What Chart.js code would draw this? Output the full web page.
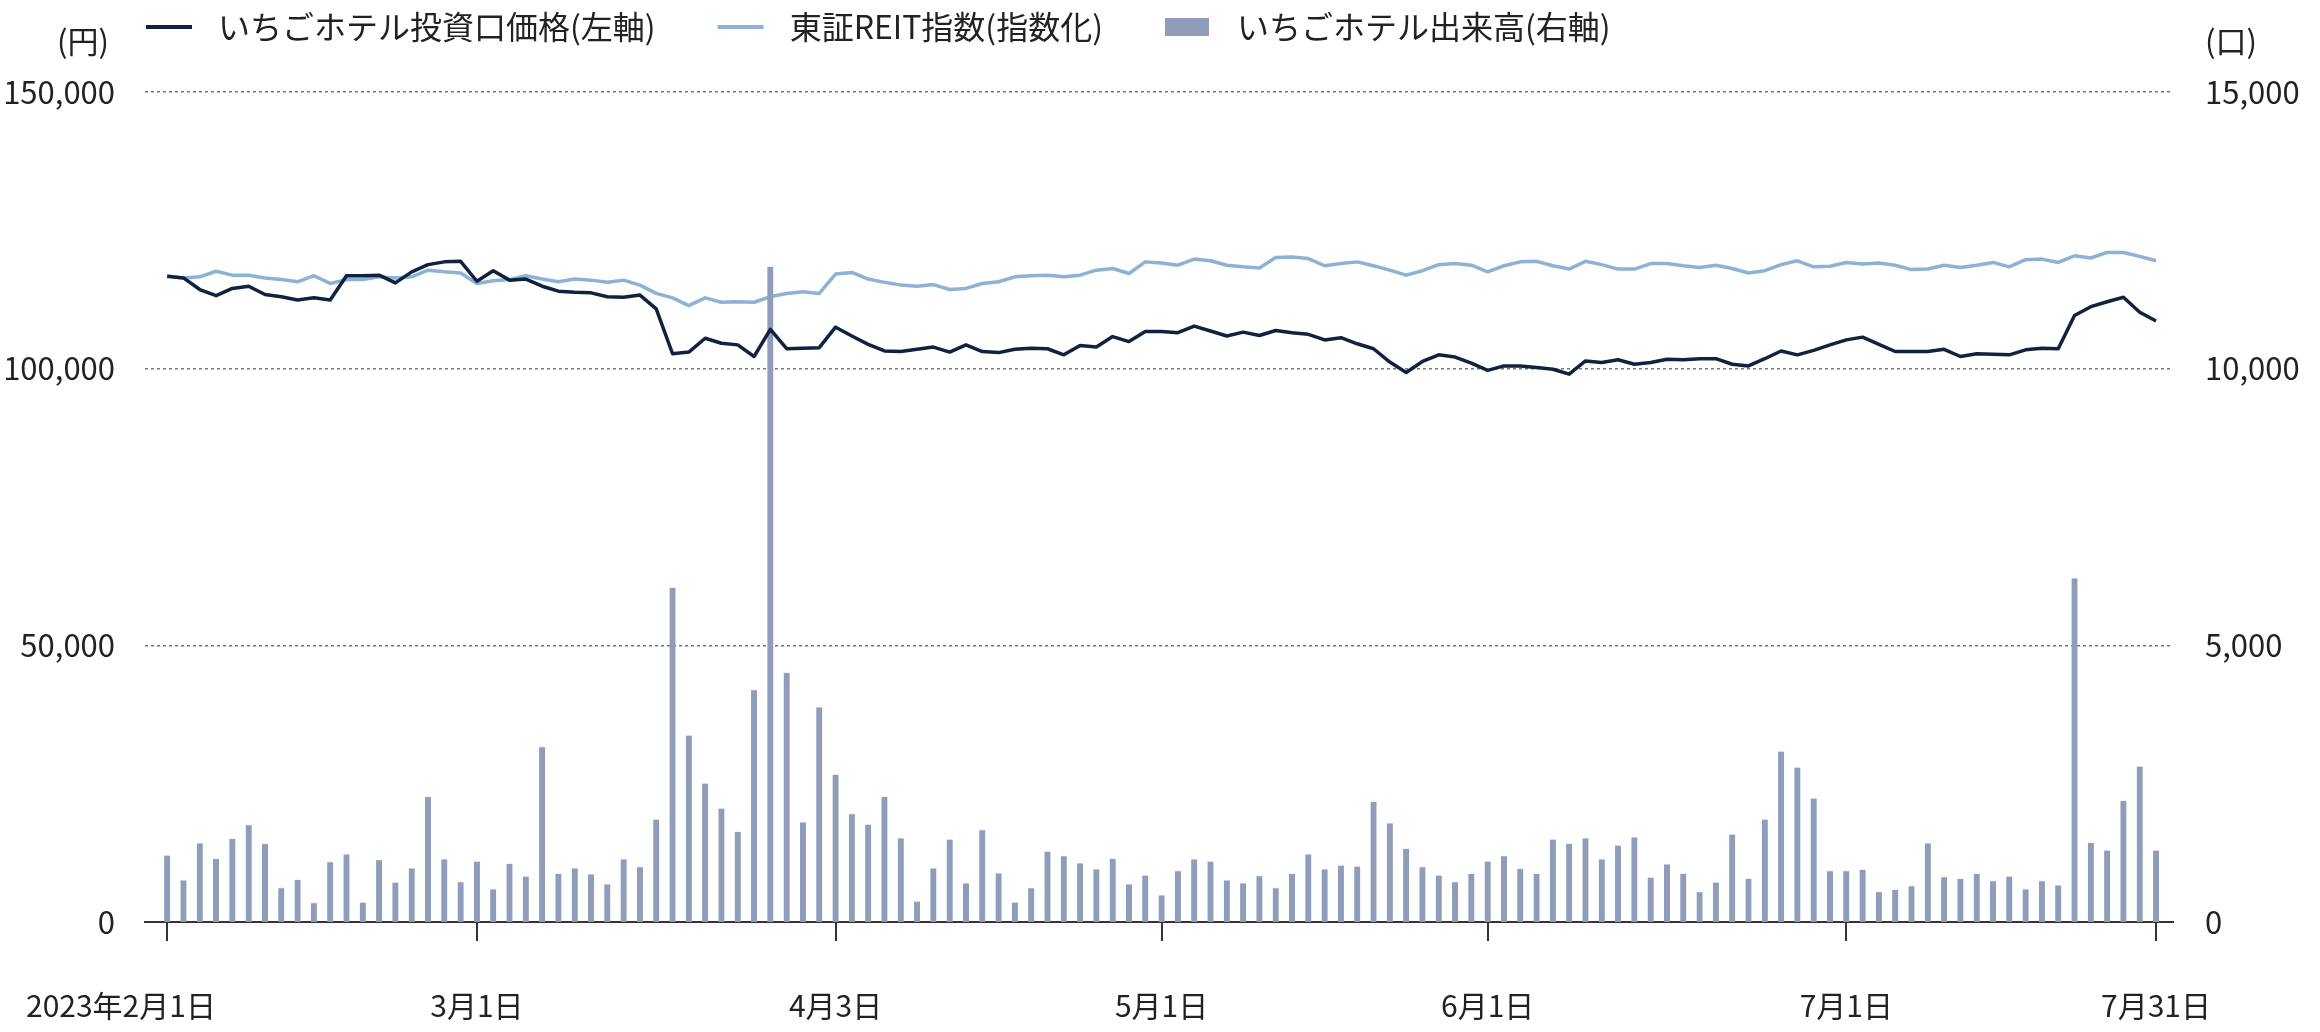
<!DOCTYPE html>
<html lang="ja">
<head>
<meta charset="UTF-8">
<title>いちごホテル投資口価格・出来高</title>
<script src="https://cdn.jsdelivr.net/npm/chart.js"></script>
<style>
  html, body { margin: 0; padding: 0; background: #fff; }
  #wrap { width: 2320px; height: 1032px; position: relative; }
</style>
</head>
<body>
<div id="wrap"><canvas id="chart"></canvas></div>
<script>
// 営業日 (2023/2/1 - 2023/7/31)
const dates = [
  '2/1','2/2','2/3','2/6','2/7','2/8','2/9','2/10','2/13','2/14','2/15','2/16','2/17','2/20','2/21','2/22','2/24','2/27','2/28',
  '3/1','3/2','3/3','3/6','3/7','3/8','3/9','3/10','3/13','3/14','3/15','3/16','3/17','3/20','3/22','3/23','3/24','3/27','3/28','3/29','3/30','3/31',
  '4/3','4/4','4/5','4/6','4/7','4/10','4/11','4/12','4/13','4/14','4/17','4/18','4/19','4/20','4/21','4/24','4/25','4/26','4/27','4/28',
  '5/1','5/2','5/8','5/9','5/10','5/11','5/12','5/15','5/16','5/17','5/18','5/19','5/22','5/23','5/24','5/25','5/26','5/29','5/30','5/31',
  '6/1','6/2','6/5','6/6','6/7','6/8','6/9','6/12','6/13','6/14','6/15','6/16','6/19','6/20','6/21','6/22','6/23','6/26','6/27','6/28','6/29','6/30',
  '7/3','7/4','7/5','7/6','7/7','7/10','7/11','7/12','7/13','7/14','7/18','7/19','7/20','7/21','7/24','7/25','7/26','7/27','7/28','7/31'
];

// 投資口価格 (円)
const price = [
  116700,116400,114300,113200,114500,114900,113400,113000,112400,112800,112400,116800,116800,116900,115500,117500,118800,119300,119400,
  115800,117700,116000,116200,114900,114000,113800,113700,113000,112900,113300,110800,102700,103000,105500,104600,104300,102200,107100,103600,103700,103800,
  107500,105900,104400,103200,103100,103500,103900,103000,104300,103100,102900,103500,103700,103600,102500,104200,103900,105800,104900,106700,
  106700,106500,107700,106800,105900,106600,106000,106900,106500,106200,105200,105600,104500,103600,101200,99300,101300,102500,102100,101000,
  99700,100500,100500,100200,99900,99000,101400,101100,101600,100800,101100,101700,101600,101800,101800,100800,100500,101800,103200,102500,103300,104300,
  105200,105700,104400,103100,103100,103100,103500,102200,102700,102600,102500,103400,103700,103600,109600,111200,112100,112900,110200,108600
];

// 東証REIT指数 (指数化)
const reit = [
  116700,116400,116600,117600,116900,116900,116400,116100,115700,116800,115400,116100,116100,116600,116400,116600,117800,117500,117300,
  115400,115900,116100,116800,116200,115700,116200,116000,115600,116000,115100,113600,112800,111400,112800,112000,112100,112000,113000,113600,113900,113600,
  117100,117400,116200,115600,115100,114900,115200,114300,114500,115400,115700,116600,116800,116900,116600,116900,117800,118100,117200,119300,
  119100,118700,119800,119500,118700,118400,118200,120100,120200,119900,118600,119000,119300,118600,117800,116900,117700,118800,119000,118700,
  117500,118600,119300,119400,118600,118000,119400,118800,118000,118000,119000,119000,118600,118300,118700,118100,117300,117700,118800,119500,118400,118500,
  119200,118900,119100,118700,117900,118000,118700,118300,118700,119200,118400,119700,119800,119200,120400,120000,121000,121000,120300,119500
];

// 出来高 (口)
const volume = [
  1210,760,1430,1150,1510,1760,1420,620,770,350,1090,1230,360,1130,720,980,2270,1140,730,
  1100,600,1060,830,3170,880,980,870,690,1140,1000,1860,6050,3380,2510,2060,1640,4200,11850,4510,1810,3890,
  2670,1960,1770,2270,1520,380,980,1500,710,1670,890,360,620,1280,1200,1070,960,1150,690,850,
  490,930,1140,1100,760,710,840,620,880,1230,960,1030,1010,2180,1790,1330,1000,850,730,880,
  1100,1200,970,880,1500,1420,1520,1140,1390,1540,810,1050,880,550,720,1590,790,1860,3090,2800,2240,930,
  930,950,550,590,660,1430,820,790,880,750,830,600,750,670,6220,1440,1300,2200,2820,1300
];

const tickDates = ['2/1', '3/1', '4/3', '5/1', '6/1', '7/3', '7/31'];
const tickLabels = ['2023年2月1日', '3月1日', '4月3日', '5月1日', '6月1日', '7月1日', '7月31日'];
const tickIdx = tickDates.map(d => dates.indexOf(d));

const FONT = '"Noto Sans CJK JP", sans-serif';
const TEXT = '#222';

Chart.defaults.font.family = FONT;
Chart.defaults.color = TEXT;

const xy = arr => arr.map((v, i) => ({ x: i, y: v }));

// 凡例・単位・日付ラベル
const decorations = {
  id: 'decorations',
  afterDraw(chart) {
    const ctx = chart.ctx;
    const area = chart.chartArea;
    ctx.save();
    ctx.textBaseline = 'middle';
    ctx.fillStyle = TEXT;

    // 凡例
    ctx.font = '32px ' + FONT;
    let x = area.left + 1;
    const ly = 27;
    chart.data.datasets.forEach(ds => {
      if (ds.type === 'line') {
        ctx.strokeStyle = ds.borderColor;
        ctx.lineWidth = 4;
        ctx.beginPath();
        ctx.moveTo(x, ly);
        ctx.lineTo(x + 46, ly);
        ctx.stroke();
      } else {
        ctx.fillStyle = ds.backgroundColor;
        ctx.fillRect(x, ly - 9, 44, 18);
      }
      x += 46 + 26;
      ctx.fillStyle = TEXT;
      ctx.textAlign = 'left';
      ctx.fillText(ds.label, x, ly);
      x += ctx.measureText(ds.label).width + 62;
    });

    // 単位
    ctx.font = '31px ' + FONT;
    ctx.textAlign = 'center';
    ctx.fillText('(円)', area.left - 62, 41);
    ctx.textAlign = 'left';
    ctx.fillText('(口)', area.right + 32, 41);

    // 日付ラベル
    ctx.font = '30px ' + FONT;
    const xs = chart.scales.x;
    tickIdx.forEach((idx, k) => {
      const px = xs.getPixelForValue(idx);
      if (k === 0) {
        ctx.textAlign = 'left';
        ctx.fillText(tickLabels[k], area.left - 119, area.bottom + 84);
      } else {
        ctx.textAlign = 'center';
        ctx.fillText(tickLabels[k], px, area.bottom + 84);
      }
    });
    ctx.restore();
  }
};

new Chart(document.getElementById('chart'), {
  data: {
    datasets: [
      {
        type: 'line',
        label: 'いちごホテル投資口価格(左軸)',
        data: xy(price),
        yAxisID: 'y',
        borderColor: '#0f2341',
        borderWidth: 3.5,
        borderJoinStyle: 'round',
        pointRadius: 0,
        tension: 0,
        order: 0
      },
      {
        type: 'line',
        label: '東証REIT指数(指数化)',
        data: xy(reit),
        yAxisID: 'y',
        borderColor: '#8cb3d5',
        borderWidth: 3.5,
        borderJoinStyle: 'round',
        pointRadius: 0,
        tension: 0,
        order: 2
      },
      {
        type: 'bar',
        label: 'いちごホテル出来高(右軸)',
        data: xy(volume),
        yAxisID: 'y1',
        backgroundColor: '#8f9dba',
        borderColor: 'rgba(235,240,248,0.8)',
        borderWidth: { top: 1, left: 0, right: 0, bottom: 0 },
        barThickness: 6,
        order: 1
      }
    ]
  },
  options: {
    responsive: true,
    maintainAspectRatio: false,
    animation: false,
    layout: { padding: { top: 92, left: 0, right: 0, bottom: 0 } },
    plugins: {
      legend: { display: false },
      tooltip: {
        callbacks: { title: items => dates[items[0].parsed.x] }
      }
    },
    scales: {
      x: {
        type: 'linear',
        offset: false,
        bounds: 'data',
        min: -1.36,
        max: 123.04,
        afterBuildTicks: s => { s.ticks = tickIdx.map(v => ({ value: v })); },
        afterFit: s => { s.height = 110; },
        ticks: { display: false },
        grid: {
          offset: false,
          drawOnChartArea: false,
          drawTicks: true,
          tickLength: 19,
          color: '#333',
          lineWidth: 2
        },
        border: { display: true, color: '#333', width: 2 }
      },
      y: {
        position: 'left',
        min: 0,
        max: 150000,
        afterFit: s => { s.width = 145; },
        ticks: {
          stepSize: 50000,
          padding: 30,
          font: { size: 31 },
          color: TEXT,
          callback: v => v.toLocaleString('en-US')
        },
        grid: { color: '#777', lineWidth: 1.5, drawTicks: false },
        border: { display: false, dash: [3, 3] }
      },
      y1: {
        position: 'right',
        min: 0,
        max: 15000,
        afterFit: s => { s.width = 147; },
        ticks: {
          stepSize: 5000,
          padding: 32,
          font: { size: 31 },
          color: TEXT,
          callback: v => v.toLocaleString('en-US')
        },
        grid: { display: false, drawTicks: false },
        border: { display: false }
      }
    }
  },
  plugins: [decorations]
});
</script>
</body>
</html>
